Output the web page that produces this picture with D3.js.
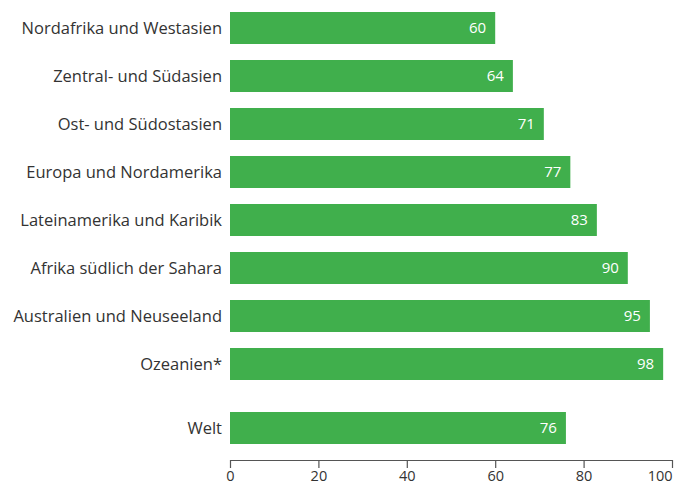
<!DOCTYPE html>
<html>
<head>
<meta charset="utf-8">
<script src="https://cdn.jsdelivr.net/npm/d3@7"></script>
<style>
  html, body { margin: 0; padding: 0; background: #fff; }
  svg text { font-family: "Open Sans", "Noto Sans", sans-serif; }
</style>
</head>
<body>
<svg id="chart" width="689" height="488"></svg>
<script>
// Regions and their values (in %), plus the world total shown apart
const regions = [
  "Nordafrika und Westasien",
  "Zentral- und Südasien",
  "Ost- und Südostasien",
  "Europa und Nordamerika",
  "Lateinamerika und Karibik",
  "Afrika südlich der Sahara",
  "Australien und Neuseeland",
  "Ozeanien*"
];
const regionValues = [60, 64, 71, 77, 83, 90, 95, 98];
const worldLabel = "Welt";
const worldValue = 76;
const xTicks = [0, 20, 40, 60, 80, 100];

const rows = regions.map((name, i) => ({ name, value: regionValues[i], world: false }))
  .concat([{ name: worldLabel, value: worldValue, world: true }]);

const svg = d3.select("#chart");
const margin = { left: 230, right: 17, top: 12 };
const width = 689;
const step = 48;
const barH = 32;
const worldGap = 16;

const x = d3.scaleLinear().domain([0, 100]).range([margin.left, width - margin.right]);
const y = d3.scaleBand()
  .domain(rows.map(d => d.name))
  .range([margin.top - (step - barH) / 2, margin.top - (step - barH) / 2 + step * rows.length])
  .paddingInner((step - barH) / step)
  .paddingOuter((step - barH) / step / 2);
const yPos = d => y(d.name) + (d.world ? worldGap : 0);

const green = "#40AF4C";

const g = svg.append("g");
g.selectAll("rect.bar").data(rows).join("rect")
  .attr("class", "bar")
  .attr("x", x(0))
  .attr("y", d => yPos(d))
  .attr("width", d => x(d.value) - x(0))
  .attr("height", y.bandwidth())
  .attr("fill", green);

// category labels
g.selectAll("text.cat").data(rows).join("text")
  .attr("class", "cat")
  .attr("x", x(0) - 8)
  .attr("y", d => yPos(d) + y.bandwidth() / 2)
  .attr("dy", "0.35em")
  .attr("text-anchor", "end")
  .attr("font-size", 16.5)
  .attr("fill", "#333")
  .text(d => d.name);

// value labels inside bar ends
g.selectAll("text.val").data(rows).join("text")
  .attr("class", "val")
  .attr("x", d => x(d.value) - 9)
  .attr("y", d => yPos(d) + y.bandwidth() / 2)
  .attr("dy", "0.35em")
  .attr("text-anchor", "end")
  .attr("font-size", 15)
  .attr("fill", "#fff")
  .text(d => d.value);

// bottom axis
const axisY = 460;
const axis = svg.append("g")
  .attr("transform", `translate(0,${axisY})`)
  .call(d3.axisBottom(x).tickValues(xTicks).tickSize(8).tickSizeOuter(0).tickPadding(3));
axis.select(".domain").attr("stroke", "#555").attr("stroke-width", 1.2);
axis.selectAll(".tick line").attr("stroke", "#555").attr("stroke-width", 1.2);
axis.selectAll(".tick text")
  .attr("font-size", 14.5)
  .attr("fill", "#333")
  .style("font-family", "'Open Sans', 'Noto Sans', sans-serif");
// keep the last label inside the frame
axis.selectAll(".tick text").filter(d => d === xTicks[xTicks.length - 1])
  .attr("text-anchor", "end");
</script>
</body>
</html>
